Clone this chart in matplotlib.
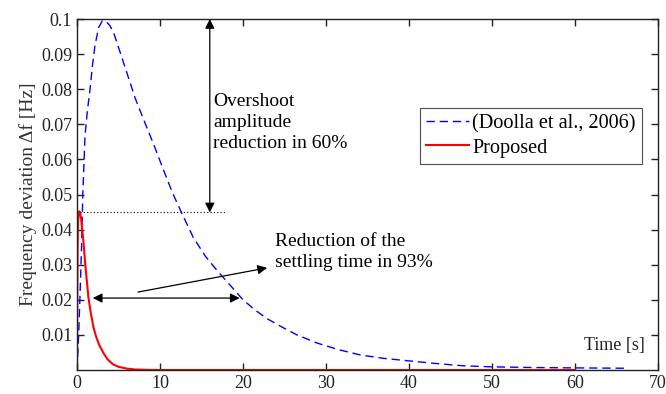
import matplotlib
matplotlib.use("Agg")
import matplotlib.pyplot as plt

plt.rcParams['font.family'] = ['Liberation Serif', 'DejaVu Serif']

# Doolla et al., 2006 (blue dashed)
t_doolla = [0, 0.2, 0.36, 0.56, 0.69, 0.96, 1.25, 1.57, 1.9, 2.17, 2.6, 3.05, 3.5, 4.0, 4.5,
            5.2, 6.1, 7.0, 8.0, 9.2, 10.5, 11.5, 12.6, 14.0, 15.5, 17.0, 18.4, 20.0, 21.5,
            23.0, 24.8, 26.5, 28.9, 31.5, 34.1, 37.0, 40.0, 43.0, 46.5, 50.0, 55.0, 60.0, 66.0]
f_doolla = [0.0, 0.010, 0.021, 0.036, 0.0494, 0.0666, 0.0738, 0.080, 0.0875, 0.0925, 0.0975,
            0.0995, 0.0993, 0.0980, 0.0955, 0.0905, 0.0840, 0.0775, 0.0715, 0.0645, 0.0565,
            0.0505, 0.0448, 0.0378, 0.0323, 0.0280, 0.0243, 0.0200, 0.0170, 0.0145, 0.0121,
            0.0100, 0.0077, 0.0058, 0.0043, 0.0033, 0.0026, 0.0019, 0.0012, 0.0009, 0.0007,
            0.0006, 0.0005]

# Proposed (red solid)
t_prop = [0, 0.03, 0.07, 0.12, 0.2, 0.28, 0.38, 0.5, 0.62, 0.76, 0.88, 1.0, 1.15, 1.36, 1.6,
          1.97, 2.3, 2.7, 3.2, 3.7, 4.35, 5.0, 6.0, 7.0, 8.5, 10.0, 20.0, 40.0, 60.0]
f_prop = [0.0, 0.020, 0.035, 0.042, 0.0448, 0.0452, 0.0447, 0.0430, 0.0400, 0.0370, 0.0335,
          0.0300, 0.0262, 0.0210, 0.0171, 0.0123, 0.0095, 0.0070, 0.0048, 0.0030, 0.0016,
          0.0009, 0.0004, 0.00015, 0.00004, 0.0, 0.0, 0.0, 0.0]

x_ticks = [0, 10, 20, 30, 40, 50, 60, 70]
y_ticks = [0.01, 0.02, 0.03, 0.04, 0.05, 0.06, 0.07, 0.08, 0.09, 0.1]
y_ticklabels = ['0.01', '0.02', '0.03', '0.04', '0.05', '0.06', '0.07', '0.08', '0.09', '0.1']

fig = plt.figure(figsize=(6.66, 3.94), dpi=100)
ax = fig.add_axes([77/666, 1 - 370/394, (658 - 77)/666, (370 - 19)/394])

ax.plot(t_doolla, f_doolla, color='#0000ff', lw=1.0, dashes=(6, 3.5),
        label='(Doolla et al., 2006)')
ax.plot(t_prop, f_prop, color='#ff0000', lw=1.5, label='Proposed')

ax.set_xlim(0, 70)
ax.set_ylim(0, 0.1)
ax.set_xticks(x_ticks)
ax.set_yticks(y_ticks)
ax.set_yticklabels(y_ticklabels)
ax.tick_params(direction='in', length=5, width=1.0, top=True, right=True,
               labelsize=13, colors='#222222', labelcolor='#222222')
for s in ax.spines.values():
    s.set_linewidth(1.0)
    s.set_color('#222222')

ax.set_ylabel('Frequency deviation Δf [Hz]', fontsize=14, color='#333333', labelpad=3)

# dotted reference line
ax.plot([0.4, 18], [0.045, 0.045], color='black', lw=0.8, ls=(0, (1, 2)))

# overshoot arrow
ax.annotate('', xy=(16.0, 0.1), xytext=(16.0, 0.0449),
            arrowprops=dict(arrowstyle='<|-|>', color='black', lw=0.9,
                            mutation_scale=14, shrinkA=0, shrinkB=0))
ax.text(16.4, 0.0705, 'Overshoot\namplitude\nreduction in 60%', fontsize=14,
        ha='left', va='center', linespacing=1.3)

# settling time arrows
ax.annotate('', xy=(1.9, 0.0205), xytext=(19.6, 0.0205),
            arrowprops=dict(arrowstyle='<|-|>', color='black', lw=0.9,
                            mutation_scale=14, shrinkA=0, shrinkB=0))
ax.annotate('', xy=(22.9, 0.0291), xytext=(7.35, 0.0222),
            arrowprops=dict(arrowstyle='-|>', color='black', lw=0.9,
                            mutation_scale=14, shrinkA=0, shrinkB=0))
ax.text(23.9, 0.0337, 'Reduction of the\nsettling time in 93%', fontsize=14,
        ha='left', va='center', linespacing=1.3)

ax.text(68.4, 0.0071, 'Time [s]', fontsize=13, ha='right', va='center', color='#222222')

leg = ax.legend(loc='upper right', bbox_to_anchor=(642/666, 1 - 108/394),
                bbox_transform=fig.transFigure, prop={'size': 14.6}, frameon=True,
                fancybox=False, borderaxespad=0, handlelength=2.15, handletextpad=0.15,
                borderpad=0.3, labelspacing=0.25)
leg.get_frame().set_edgecolor('#222222')
leg.get_frame().set_linewidth(0.8)

fig.savefig('out.png', dpi=100)
